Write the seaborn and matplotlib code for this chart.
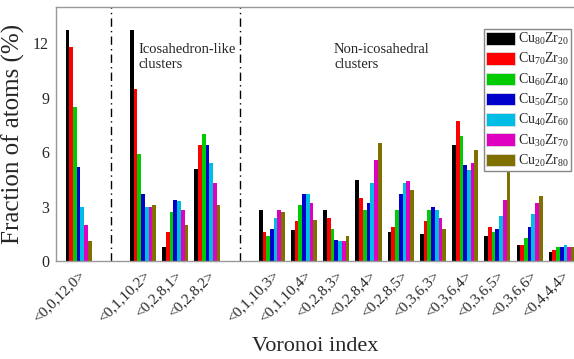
import numpy as np
import pandas as pd
import matplotlib
matplotlib.use("Agg")
import matplotlib.pyplot as plt
import seaborn as sns

# Voronoi index groups: ideal icosahedron, icosahedron-like, non-icosahedral
group_ideal = ["<0,0,12,0>"]
group_ico_like = ["<0,1,10,2>", "<0,2,8,1>", "<0,2,8,2>"]
group_non_ico = ["<0,1,10,3>", "<0,1,10,4>", "<0,2,8,3>", "<0,2,8,4>", "<0,2,8,5>",
                 "<0,3,6,3>", "<0,3,6,4>", "<0,3,6,5>", "<0,3,6,6>", "<0,4,4,4>"]

alloys = [r"Cu$_{\mathrm{80}}$Zr$_{\mathrm{20}}$", r"Cu$_{\mathrm{70}}$Zr$_{\mathrm{30}}$",
          r"Cu$_{\mathrm{60}}$Zr$_{\mathrm{40}}$", r"Cu$_{\mathrm{50}}$Zr$_{\mathrm{50}}$",
          r"Cu$_{\mathrm{40}}$Zr$_{\mathrm{60}}$", r"Cu$_{\mathrm{30}}$Zr$_{\mathrm{70}}$",
          r"Cu$_{\mathrm{20}}$Zr$_{\mathrm{80}}$"]

# Fraction of atoms (%) per alloy, in the order of the Voronoi indices above
cu80zr20 = [12.7, 12.7, 0.8, 5.1, 2.8, 1.7, 2.8, 4.5, 1.6, 1.5, 6.4, 1.4, 0.9, 0.5]
cu70zr30 = [11.8, 9.5, 1.6, 6.4, 1.6, 2.2, 2.4, 3.5, 1.9, 2.2, 7.7, 1.9, 0.9, 0.6]
cu60zr40 = [8.5, 5.9, 2.7, 7.0, 1.4, 3.1, 1.8, 2.8, 2.8, 2.8, 6.9, 1.6, 1.3, 0.8]
cu50zr50 = [5.2, 3.7, 3.4, 6.4, 1.8, 3.7, 1.2, 3.2, 3.7, 3.0, 5.3, 1.8, 1.9, 0.8]
cu40zr60 = [3.0, 3.0, 3.3, 5.4, 2.4, 3.7, 1.1, 4.3, 4.3, 2.8, 5.0, 2.5, 2.6, 0.9]
cu30zr70 = [2.0, 3.0, 2.8, 4.3, 2.8, 3.2, 1.1, 5.6, 4.4, 2.4, 5.4, 3.4, 3.2, 0.8]
cu20zr80 = [1.1, 3.1, 2.0, 3.1, 2.7, 2.3, 1.4, 6.5, 3.9, 1.8, 6.1, 4.9, 3.6, 0.8]

series = [cu80zr20, cu70zr30, cu60zr40, cu50zr50, cu40zr60, cu30zr70, cu20zr80]
colors = ["#000000", "#ff0000", "#00cc00", "#0000cc", "#00bde6", "#e000c0", "#7f7000"]

# place the groups on a numeric axis with one empty slot between groups
groups = [group_ideal, group_ico_like, group_non_ico]
labels, positions, separators = [], [], []
pos = 0
for gi, g in enumerate(groups):
    if gi > 0:
        separators.append(pos)
        pos += 1
    for lab in g:
        labels.append(lab)
        positions.append(pos)
        pos += 1

rows = []
for alloy, vals in zip(alloys, series):
    for p, v in zip(positions, vals):
        rows.append({"pos": p, "alloy": alloy, "frac": v})
df = pd.DataFrame(rows)

sns.set_style("white")
plt.rcParams["font.family"] = ["Liberation Serif", "DejaVu Serif"]
plt.rcParams["mathtext.fontset"] = "custom"
plt.rcParams["mathtext.rm"] = "Liberation Serif"
plt.rcParams["mathtext.it"] = "Liberation Serif:italic"
plt.rcParams["mathtext.bf"] = "Liberation Serif:bold"

fig = plt.figure(figsize=(5.74, 3.59), dpi=100)
ax = fig.add_axes([0.0976, 0.272, 0.9024, 0.709])

sns.barplot(data=df, x="pos", y="frac", hue="alloy", hue_order=alloys,
            palette=colors, native_scale=True, saturation=1, linewidth=0,
            width=0.81, ax=ax, legend=False)

for s in separators:
    ax.axvline(s, color="black", linestyle=(0, (6, 3, 1, 3)), linewidth=1.0)

ax.set_xlim(-0.70, 15.38)
ax.set_ylim(0, 14)
ax.set_yticks([0, 3, 6, 9, 12])
ax.set_xticks(positions)
ax.set_xticklabels(labels, rotation=45, ha="right", va="top",
                   rotation_mode="anchor", fontsize=11)
ax.tick_params(axis="y", labelsize=11.5, length=0, pad=5)
ax.tick_params(axis="x", length=0, pad=5)

for side in ["left", "bottom", "top"]:
    ax.spines[side].set_color("#999999")
    ax.spines[side].set_linewidth(1.0)
ax.spines["right"].set_visible(False)

ax.set_ylabel("Fraction of atoms (%)", fontsize=18, labelpad=6)
ax.set_xlabel("Voronoi index", fontsize=16, labelpad=9)

ax.text(1.87, 12.0, "Icosahedron-like\nclusters", fontsize=10.5,
        ha="left", va="top", linespacing=1.15)
ax.text(7.93, 12.0, "Non-icosahedral\nclusters", fontsize=10.5,
        ha="left", va="top", linespacing=1.15)

handles = [plt.Rectangle((0, 0), 1, 1, facecolor=c, edgecolor="#dddddd", linewidth=0.6)
           for c in colors]
leg = ax.legend(handles, alloys, loc="upper right",
                bbox_to_anchor=(571 / 574, 1 - 29 / 359), bbox_transform=fig.transFigure,
                fontsize=10, frameon=True, fancybox=False, edgecolor="#888888",
                framealpha=1, borderpad=0.15, borderaxespad=0, handlelength=2.1,
                handleheight=1.0, handletextpad=0.2, labelspacing=0.3)
leg.get_frame().set_linewidth(1.0)

fig.savefig("out.png", dpi=100)
